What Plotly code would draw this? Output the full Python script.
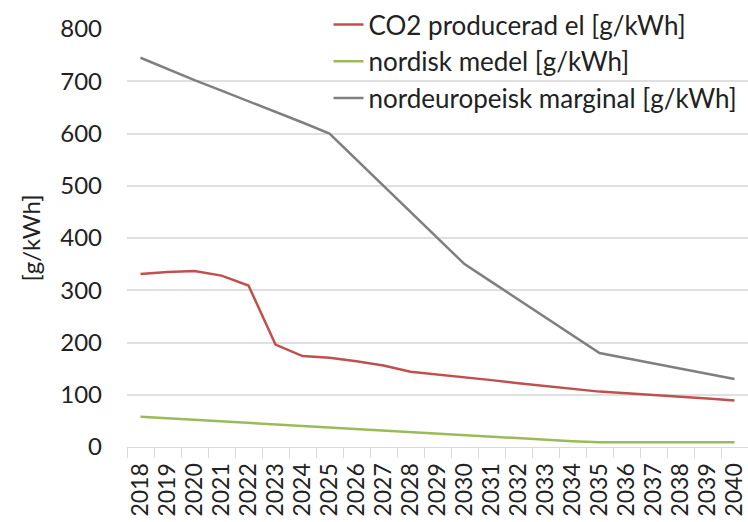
import plotly.graph_objects as go

years = [str(y) for y in range(2018, 2041)]
co2_producerad = [331, 335, 337, 328, 309, 196, 174, 171, 164, 156, 144, 139, 134, 128, 122, 117, 111, 106, 103, 100, 96, 93, 89]
nordisk_medel = [58, 55, 52, 49, 46, 43, 41, 38, 35, 32, 29, 26, 23, 20, 17, 14, 11, 9, 9, 9, 9, 9, 9]
nordeuropeisk_marginal = [745, 723, 702, 682, 662, 641, 621, 600, 550, 500, 450, 400, 350, 316, 282, 248, 214, 180, 170, 160, 150, 140, 130]

names = ["CO2 producerad el [g/kWh]", "nordisk medel [g/kWh]", "nordeuropeisk marginal [g/kWh]"]
colors = ["#c0504d", "#9bbb59", "#7f7f7f"]
series = [co2_producerad, nordisk_medel, nordeuropeisk_marginal]

FONT = "Lato"
fig = go.Figure()
for n, c, s in zip(names, colors, series):
    fig.add_trace(go.Scatter(x=years, y=s, name=n, mode="lines",
                             line=dict(color=c, width=2.5)))

H_PLOT = 522 - 75  # area above bottom margin
fig.update_layout(
    width=748, height=522,
    margin=dict(l=127, r=0, t=0, b=75, autoexpand=False),
    paper_bgcolor="white", plot_bgcolor="white",
    font=dict(family=FONT, size=24, color="#222"),
    showlegend=True,
    legend=dict(x=0.3245, y=(H_PLOT - 1) / H_PLOT, xanchor="left", yanchor="top",
                bgcolor="rgba(0,0,0,0)", font=dict(size=26, family=FONT),
                itemwidth=30, tracegroupgap=0),
    xaxis=dict(type="category", tickangle=-90, tickson="boundaries",
               range=[-0.5, len(years) - 0.5], tickmode="linear", tick0=0, dtick=1,
               ticks="outside", ticklen=10, tickcolor="#d9d9d9", automargin=False,
               ticklabelstandoff=6,
               showline=True, linecolor="#d9d9d9", linewidth=1,
               showgrid=False, tickfont=dict(size=23, family=FONT)),
    yaxis=dict(range=[0, 800], dtick=100, domain=[0, 418 / H_PLOT], automargin=False,
               showgrid=True, gridcolor="#e0e0e0",
               gridwidth=1.5, zeroline=False, ticks="", ticklabelstandoff=24,
               title=dict(text="[g/kWh]", standoff=12, font=dict(size=24, family=FONT)),
               tickfont=dict(size=24, family=FONT)),
)
fig.write_html("out.html", config={"displayModeBar": False},
               post_script="document.body.style.margin='0';")
